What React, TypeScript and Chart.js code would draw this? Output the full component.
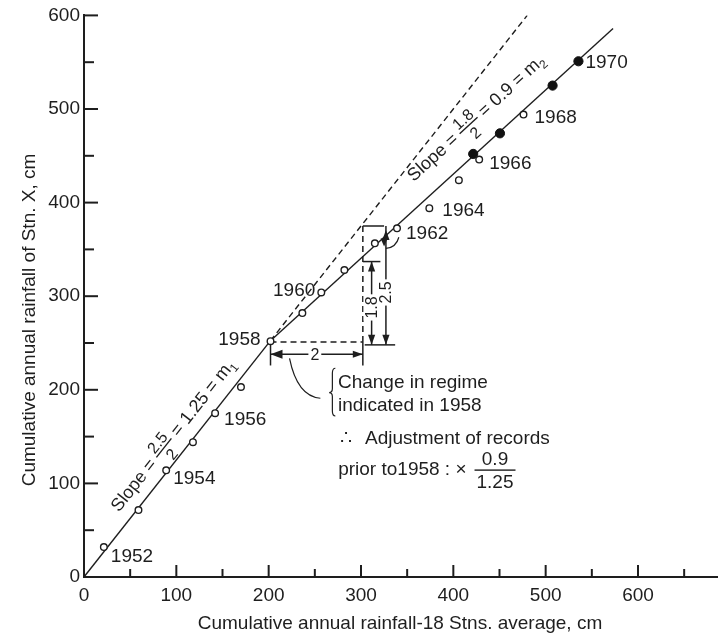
import { useEffect, useRef } from 'react';
import { Chart, registerables } from 'chart.js';

Chart.register(...registerables);

// ---- data (cm) ----
const openX = [21.5, 59, 89, 118, 142, 170, 202, 236.5, 257, 282, 315, 339, 374, 406, 428, 476];
const openY = [32, 71.5, 114, 144, 175, 203, 252, 282, 304, 328, 356.5, 372.5, 394, 424, 446, 494];
const filledX = [421.5, 450.5, 507.5, 535.5];
const filledY = [452, 474, 525, 551];

const regime1X = [0, 202];
const regime1Y = [0, 252.5];
const regime2X = [202, 573];
const regime2Y = [252.5, 586];
const extendX = [202, 480];
const extendY = [252.5, 600];

const yearLabels = ['1952', '1954', '1956', '1958', '1960', '1962', '1964', '1966', '1968', '1970'];
const yearX = [21.5, 89, 142, 202, 257, 339, 374, 428, 476, 535.5];
const yearY = [32, 114, 175, 252, 304, 372.5, 394, 446, 494, 551];

const xTickLabels = [0, 100, 200, 300, 400, 500, 600];
const yTickLabels = [0, 100, 200, 300, 400, 500, 600];

const xTitle = 'Cumulative annual rainfall-18 Stns. average, cm';
const yTitle = 'Cumulative annual rainfall of Stn. X, cm';

const INK = '#1e1e1e';
const FAM = '"Liberation Sans", Arial, Helvetica, sans-serif';

const pts = (xs: number[], ys: number[]) => xs.map((x, i) => ({ x, y: ys[i] }));

// label offsets (px) relative to the point they name
const yearOffsets: [number, number, CanvasTextAlign][] = [
  [7, 10, 'left'], [7, 8, 'left'], [9, 7, 'left'], [-10, -1, 'right'], [-6, -2, 'right'],
  [9, 5, 'left'], [13, 3, 'left'], [10, 4, 'left'], [11, 3, 'left'], [7, 2, 'left'],
];

function arrowHead(ctx: CanvasRenderingContext2D, tx: number, ty: number, dx: number, dy: number, len = 10, half = 3.6) {
  const n = Math.hypot(dx, dy);
  const ux = dx / n, uy = dy / n;
  const bx = tx - ux * len, by = ty - uy * len;
  ctx.beginPath();
  ctx.moveTo(tx, ty);
  ctx.lineTo(bx - uy * half, by + ux * half);
  ctx.lineTo(bx + uy * half, by - ux * half);
  ctx.closePath();
  ctx.fill();
}

function seg(ctx: CanvasRenderingContext2D, x1: number, y1: number, x2: number, y2: number) {
  ctx.beginPath();
  ctx.moveTo(x1, y1);
  ctx.lineTo(x2, y2);
  ctx.stroke();
}

function slopeText(ctx: CanvasRenderingContext2D, cx: number, cy: number, ang: number,
  num: string, den: string, tail: string, sub: string) {
  ctx.save();
  ctx.translate(cx, cy);
  ctx.rotate(ang);
  ctx.fillStyle = INK;
  const main = `18px ${FAM}`, frac = `16px ${FAM}`, small = `12px ${FAM}`;
  const head = 'Slope = ';
  ctx.font = main;
  const wh = ctx.measureText(head).width;
  const wt = ctx.measureText(tail).width;
  ctx.font = frac;
  const wf = Math.max(ctx.measureText(num).width, ctx.measureText(den).width) + 2;
  ctx.font = small;
  const ws = ctx.measureText(sub).width;
  let px = -(wh + wf + wt + ws) / 2;
  ctx.textAlign = 'left';
  ctx.textBaseline = 'middle';
  ctx.font = main;
  ctx.fillText(head, px, 0);
  px += wh;
  ctx.font = frac;
  ctx.textAlign = 'center';
  ctx.textBaseline = 'alphabetic';
  ctx.fillText(num, px + wf / 2, -3);
  ctx.textBaseline = 'top';
  ctx.fillText(den, px + wf / 2, 3);
  ctx.fillRect(px, -0.7, wf, 1.4);
  px += wf;
  ctx.textAlign = 'left';
  ctx.textBaseline = 'middle';
  ctx.font = main;
  ctx.fillText(tail, px, 0);
  px += wt;
  ctx.font = small;
  ctx.fillText(sub, px, 6);
  ctx.restore();
}

const massCurvePlugin = {
  id: 'massCurve',
  beforeDatasetsDraw(chart: any) {
    const { ctx, chartArea, scales: { x, y } } = chart;
    const X = (v: number) => x.getPixelForValue(v);
    const Y = (v: number) => y.getPixelForValue(v);
    ctx.save();
    ctx.strokeStyle = INK;
    ctx.fillStyle = INK;

    // inward ticks
    ctx.lineWidth = 2;
    for (let v = 50; v <= 650; v += 50) {
      const p = X(v);
      if (p > chartArea.right) break;
      seg(ctx, p, chartArea.bottom, p, chartArea.bottom - (v % 100 === 0 ? 12 : 8));
    }
    for (let v = 50; v <= 600; v += 50) {
      const p = Y(v);
      seg(ctx, chartArea.left, p, chartArea.left + (v % 100 === 0 ? 14 : 10), p);
    }

    // construction of slope triangle
    ctx.lineWidth = 1.5;
    ctx.setLineDash([6, 4]);
    seg(ctx, X(202), Y(251), X(302), Y(251));
    seg(ctx, X(302), Y(251), X(302), Y(375));
    ctx.setLineDash([]);
    seg(ctx, X(302), Y(375), X(325), Y(375));
    seg(ctx, X(302), Y(337), X(321), Y(337));
    seg(ctx, X(304), Y(248), X(337), Y(248));

    // 1.8 arrow
    seg(ctx, X(311.5), Y(337), X(311.5), Y(248));
    arrowHead(ctx, X(311.5), Y(337), 0, -1);
    arrowHead(ctx, X(311.5), Y(248), 0, 1);
    // 2.5 arrow
    seg(ctx, X(327), Y(375), X(327), Y(248));
    arrowHead(ctx, X(327), Y(375) + 4, 0, -1);
    arrowHead(ctx, X(327), Y(248), 0, 1);
    arrowHead(ctx, X(325), Y(353), 0, 1, 8, 3.5);

    // 2 arrow
    seg(ctx, X(202), Y(252), X(202), Y(226));
    seg(ctx, X(302), Y(251), X(302), Y(226));
    seg(ctx, X(202), Y(238), X(302), Y(238));
    arrowHead(ctx, X(202), Y(238), -1, 0, 12, 4.5);
    arrowHead(ctx, X(302), Y(238), 1, 0);

    // leader to the regime-change note
    ctx.lineWidth = 1.2;
    ctx.beginPath();
    ctx.moveTo(X(256), Y(191));
    ctx.quadraticCurveTo(X(231), Y(193), X(222.6), Y(233.6));
    ctx.stroke();
    // 1962 leader
    ctx.beginPath();
    ctx.moveTo(X(341), Y(363));
    ctx.quadraticCurveTo(X(338), Y(352), X(327), Y(351));
    ctx.stroke();

    // brace
    const bx = X(269), tx = X(266.6), top = Y(223), bot = Y(172), mid = Y(197);
    ctx.beginPath();
    ctx.moveTo(bx + 3, top);
    ctx.quadraticCurveTo(bx, top, bx, top + 5);
    ctx.lineTo(bx, mid - 4);
    ctx.quadraticCurveTo(bx, mid, tx - 1, mid);
    ctx.quadraticCurveTo(bx, mid, bx, mid + 4);
    ctx.lineTo(bx, bot - 5);
    ctx.quadraticCurveTo(bx, bot, bx + 3, bot);
    ctx.stroke();
    ctx.restore();
  },
  afterDatasetsDraw(chart: any) {
    const { ctx, scales: { x, y } } = chart;
    const X = (v: number) => x.getPixelForValue(v);
    const Y = (v: number) => y.getPixelForValue(v);
    ctx.save();
    ctx.fillStyle = INK;

    // year labels
    ctx.font = `19px ${FAM}`;
    ctx.textBaseline = 'middle';
    yearLabels.forEach((t, i) => {
      const [dx, dy, al] = yearOffsets[i];
      ctx.textAlign = al;
      ctx.fillText(t, X(yearX[i]) + dx, Y(yearY[i]) + dy);
    });

    // small dimension labels with white backing
    const boxed = (t: string, cx: number, cy: number, rot: number) => {
      ctx.save();
      ctx.translate(cx, cy);
      ctx.rotate(rot);
      ctx.font = `16px ${FAM}`;
      const w = ctx.measureText(t).width;
      ctx.fillStyle = '#fff';
      ctx.fillRect(-w / 2 - 2, -8, w + 4, 16);
      ctx.fillStyle = INK;
      ctx.textAlign = 'center';
      ctx.textBaseline = 'middle';
      ctx.fillText(t, 0, 1);
      ctx.restore();
    };
    boxed('2', X(250), Y(238), 0);
    boxed('1.8', X(311.5), Y(288), -Math.PI / 2);
    boxed('2.5', X(327), Y(304), -Math.PI / 2);

    // slope labels
    const a1 = Math.atan2(Y(regime1Y[1]) - Y(regime1Y[0]), X(regime1X[1]) - X(regime1X[0]));
    const a2 = Math.atan2(Y(regime2Y[1]) - Y(regime2Y[0]), X(regime2X[1]) - X(regime2X[0]));
    slopeText(ctx, X(97), Y(151), a1, '2.5', '2', ' = 1.25 = m', '1');
    slopeText(ctx, X(425), Y(490), a2, '1.8', '2', ' = 0.9 = m', '2');

    // notes
    ctx.font = `19px ${FAM}`;
    ctx.textAlign = 'left';
    ctx.textBaseline = 'alphabetic';
    ctx.fillText('Change in regime', X(275), Y(202));
    ctx.fillText('indicated in 1958', X(275), Y(177));
    ctx.fillText('\u2234', X(277.4), Y(142));
    ctx.fillText('Adjustment of records', X(304.3), Y(142));
    const p = 'prior to1958 : \u00d7';
    ctx.fillText(p, X(275.3), Y(109));
    const pend = X(275.3) + ctx.measureText(p).width;
    const fw = Math.max(ctx.measureText('0.9').width, ctx.measureText('1.25').width) + 4;
    const fx = pend + 8 + fw / 2;
    ctx.textAlign = 'center';
    ctx.fillText('0.9', fx, Y(119.6));
    ctx.fillText('1.25', fx, Y(95));
    ctx.fillRect(fx - fw / 2, Y(114.2) - 0.7, fw, 1.4);

    ctx.restore();
  },
  afterDraw(chart: any) {
    const { ctx } = chart;
    ctx.save();
    ctx.fillStyle = INK;
    ctx.font = `19px ${FAM}`;
    ctx.textAlign = 'center';
    ctx.textBaseline = 'middle';
    ctx.fillText(xTitle, 400, 624);
    ctx.translate(30, 320);
    ctx.rotate(-Math.PI / 2);
    ctx.fillText(yTitle, 0, 0);
    ctx.restore();
  },
};

export default function App() {
  const ref = useRef<HTMLCanvasElement | null>(null);
  useEffect(() => {
    if (!ref.current) return;
    const tickFont = { family: FAM, size: 19 };
    const chart = new Chart(ref.current, {
      type: 'scatter',
      data: {
        datasets: [
          {
            label: 'open', data: pts(openX, openY), order: 0,
            pointRadius: 3.3, pointBorderWidth: 1.4, pointBackgroundColor: '#fff', pointBorderColor: INK,
            showLine: false,
          },
          {
            label: 'filled', data: pts(filledX, filledY), order: 0,
            pointRadius: 4.6, pointBorderWidth: 1, pointBackgroundColor: '#111', pointBorderColor: '#111',
            showLine: false,
          },
          {
            label: 'regime1', data: pts(regime1X, regime1Y), order: 1, showLine: true,
            borderColor: INK, borderWidth: 1.4, pointRadius: 0,
          },
          {
            label: 'regime2', data: pts(regime2X, regime2Y), order: 1, showLine: true,
            borderColor: INK, borderWidth: 1.4, pointRadius: 0,
          },
          {
            label: 'extension', data: pts(extendX, extendY), order: 1, showLine: true,
            borderColor: INK, borderWidth: 1.4, borderDash: [6, 4], pointRadius: 0,
          },
        ],
      },
      options: {
        responsive: false,
        animation: false,
        devicePixelRatio: 1,
        layout: { padding: { top: 15, right: 0, left: 0, bottom: 0 } },
        plugins: { legend: { display: false }, tooltip: { enabled: false } },
        scales: {
          x: {
            type: 'linear', min: 0, max: 686,
            border: { display: true, color: INK, width: 2 },
            grid: { display: false, drawTicks: false },
            ticks: {
              stepSize: 50, includeBounds: false, autoSkip: false, maxRotation: 0, padding: 7,
              color: INK, font: tickFont,
              callback: (v: any) => (xTickLabels.includes(Number(v)) ? String(v) : ''),
            },
            afterFit: (s: any) => { s.height = 59; },
          },
          y: {
            type: 'linear', min: 0, max: 600,
            border: { display: true, color: INK, width: 2 },
            grid: { display: false, drawTicks: false },
            ticks: {
              stepSize: 50, autoSkip: false, padding: 4,
              color: INK, font: tickFont,
              callback: (v: any) => (yTickLabels.includes(Number(v)) ? String(v) : ''),
            },
            afterFit: (s: any) => { s.width = 84; },
          },
        },
      },
      plugins: [massCurvePlugin],
    } as any);
    return () => chart.destroy();
  }, []);
  return (
    <div style={{ position: 'absolute', left: 0, top: 0, width: 723, height: 636, background: '#fff' }}>
      <canvas ref={ref} width={723} height={636} style={{ display: 'block' }} />
    </div>
  );
}
